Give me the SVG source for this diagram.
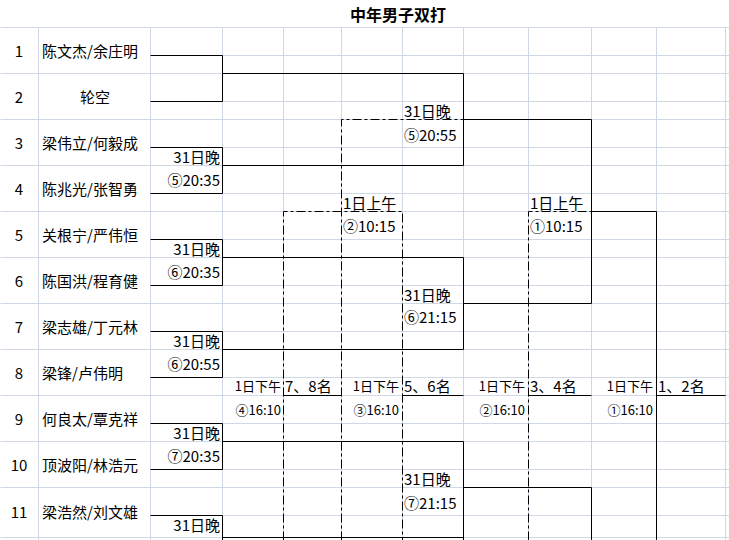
<svg xmlns="http://www.w3.org/2000/svg" width="729" height="540" viewBox="0 0 729 540">
<style>
.bg{fill:#ffffff}
.grid{stroke:#d0d7e5;stroke-width:1;fill:none}
.ln{stroke:#000;stroke-width:1;fill:none}
.dd{stroke:#000;stroke-width:1;fill:none;stroke-dasharray:9 3 3 3}
text{font-family:"Noto Sans CJK SC","Noto Sans",sans-serif;font-size:15px;fill:#000}
.num{text-anchor:middle}
.ctr{text-anchor:middle}
.r{text-anchor:end}
.sm{font-size:13px}
.title{font-size:16px;font-weight:bold;text-anchor:middle}
</style>
<rect class="bg" x="0" y="0" width="729" height="540"/>
<g id="grid" transform="translate(0.5,0.5)">
<path class="grid" d="M38 27V540M150 27V540M222 27V540M283 27V540M341 27V540M402 27V540M463 27V540M528 27V540M591 27V540M656 27V540M725 27V540"/>
<path class="grid" d="M0 27H729M0 73H729M0 119H729M0 165H729M0 211H729M0 257H729M0 303H729M0 349H729M0 395H729M0 441H729M0 487H729M0 537H729"/>
<path class="grid" d="M150 55H729M150 101H729M150 147H729M150 193H729M150 239H729M150 285H729M150 331H729M150 377H729M150 423H729M150 469H729M150 515H729"/>
</g>
<text class="title" x="398" y="21">中年男子双打</text>
<g id="connectors" transform="translate(0.5,0.5)">
<path class="ln" d="M150 55H222V101H150M222 73H463V165H222M150 147H222V193H150M463 119H591V303H463M150 239H222V285H150M222 257H463V349H222M150 331H222V377H150M591 211H656V540M150 423H222V469H150M222 441H463V540M150 515H222V540M222 537H463M463 487H591V540M656 395H725M283 395H341M402 395H463M528 395H591"/>
<path class="dd" d="M341 540V119H463"/>
<path class="dd" d="M283 540V211H402V540"/>
<path class="dd" d="M528 540V211H591"/>
</g>
<g id="entry1"><text class="num" x="19" y="57">1</text><text x="42" y="57">陈文杰/余庄明</text></g>
<g id="entry2"><text class="num" x="19" y="103">2</text><text class="ctr" x="95" y="103">轮空</text></g>
<g id="entry3"><text class="num" x="19" y="149">3</text><text x="42" y="149">梁伟立/何毅成</text></g>
<g id="entry4"><text class="num" x="19" y="195">4</text><text x="42" y="195">陈兆光/张智勇</text></g>
<g id="entry5"><text class="num" x="19" y="241">5</text><text x="42" y="241">关根宁/严伟恒</text></g>
<g id="entry6"><text class="num" x="19" y="287">6</text><text x="42" y="287">陈国洪/程育健</text></g>
<g id="entry7"><text class="num" x="19" y="333">7</text><text x="42" y="333">梁志雄/丁元林</text></g>
<g id="entry8"><text class="num" x="19" y="379">8</text><text x="42" y="379">梁锋/卢伟明</text></g>
<g id="entry9"><text class="num" x="19" y="425">9</text><text x="42" y="425">何良太/覃克祥</text></g>
<g id="entry10"><text class="num" x="19" y="471">10</text><text x="42" y="471">顶波阳/林浩元</text></g>
<g id="entry11"><text class="num" x="19" y="518">11</text><text x="42" y="518">梁浩然/刘文雄</text></g>
<g id="match-r1-34"><text class="r" x="220" y="163">31日晚</text><text class="r" x="220" y="186">⑤20:35</text></g>
<g id="match-r1-56"><text class="r" x="220" y="255">31日晚</text><text class="r" x="220" y="278">⑥20:35</text></g>
<g id="match-r1-78"><text class="r" x="220" y="347">31日晚</text><text class="r" x="220" y="370">⑥20:55</text></g>
<g id="match-r1-910"><text class="r" x="220" y="439">31日晚</text><text class="r" x="220" y="462">⑦20:35</text></g>
<g id="match-r1-1112"><text class="r" x="220" y="531">31日晚</text></g>
<g id="match-r2-a"><text x="404" y="117">31日晚</text><text x="404" y="141">⑤20:55</text></g>
<g id="match-r2-b"><text x="404" y="301">31日晚</text><text x="404" y="323">⑥21:15</text></g>
<g id="match-r2-c"><text x="404" y="485">31日晚</text><text x="404" y="509">⑦21:15</text></g>
<g id="match-am-2"><text x="343" y="209">1日上午</text><text x="343" y="232">②10:15</text></g>
<g id="match-am-1"><text x="530" y="209">1日上午</text><text x="530" y="232">①10:15</text></g>
<g id="place-78"><text class="r sm" x="281" y="391">1日下午</text><text x="285" y="392">7、8名</text><text class="r sm" x="281" y="415">④16:10</text></g>
<g id="place-56"><text class="r sm" x="399" y="391">1日下午</text><text x="404" y="392">5、6名</text><text class="r sm" x="399" y="415">③16:10</text></g>
<g id="place-34"><text class="r sm" x="525" y="391">1日下午</text><text x="530" y="392">3、4名</text><text class="r sm" x="525" y="415">②16:10</text></g>
<g id="place-12"><text class="r sm" x="653" y="391">1日下午</text><text x="658" y="392">1、2名</text><text class="r sm" x="653" y="415">①16:10</text></g>
</svg>
